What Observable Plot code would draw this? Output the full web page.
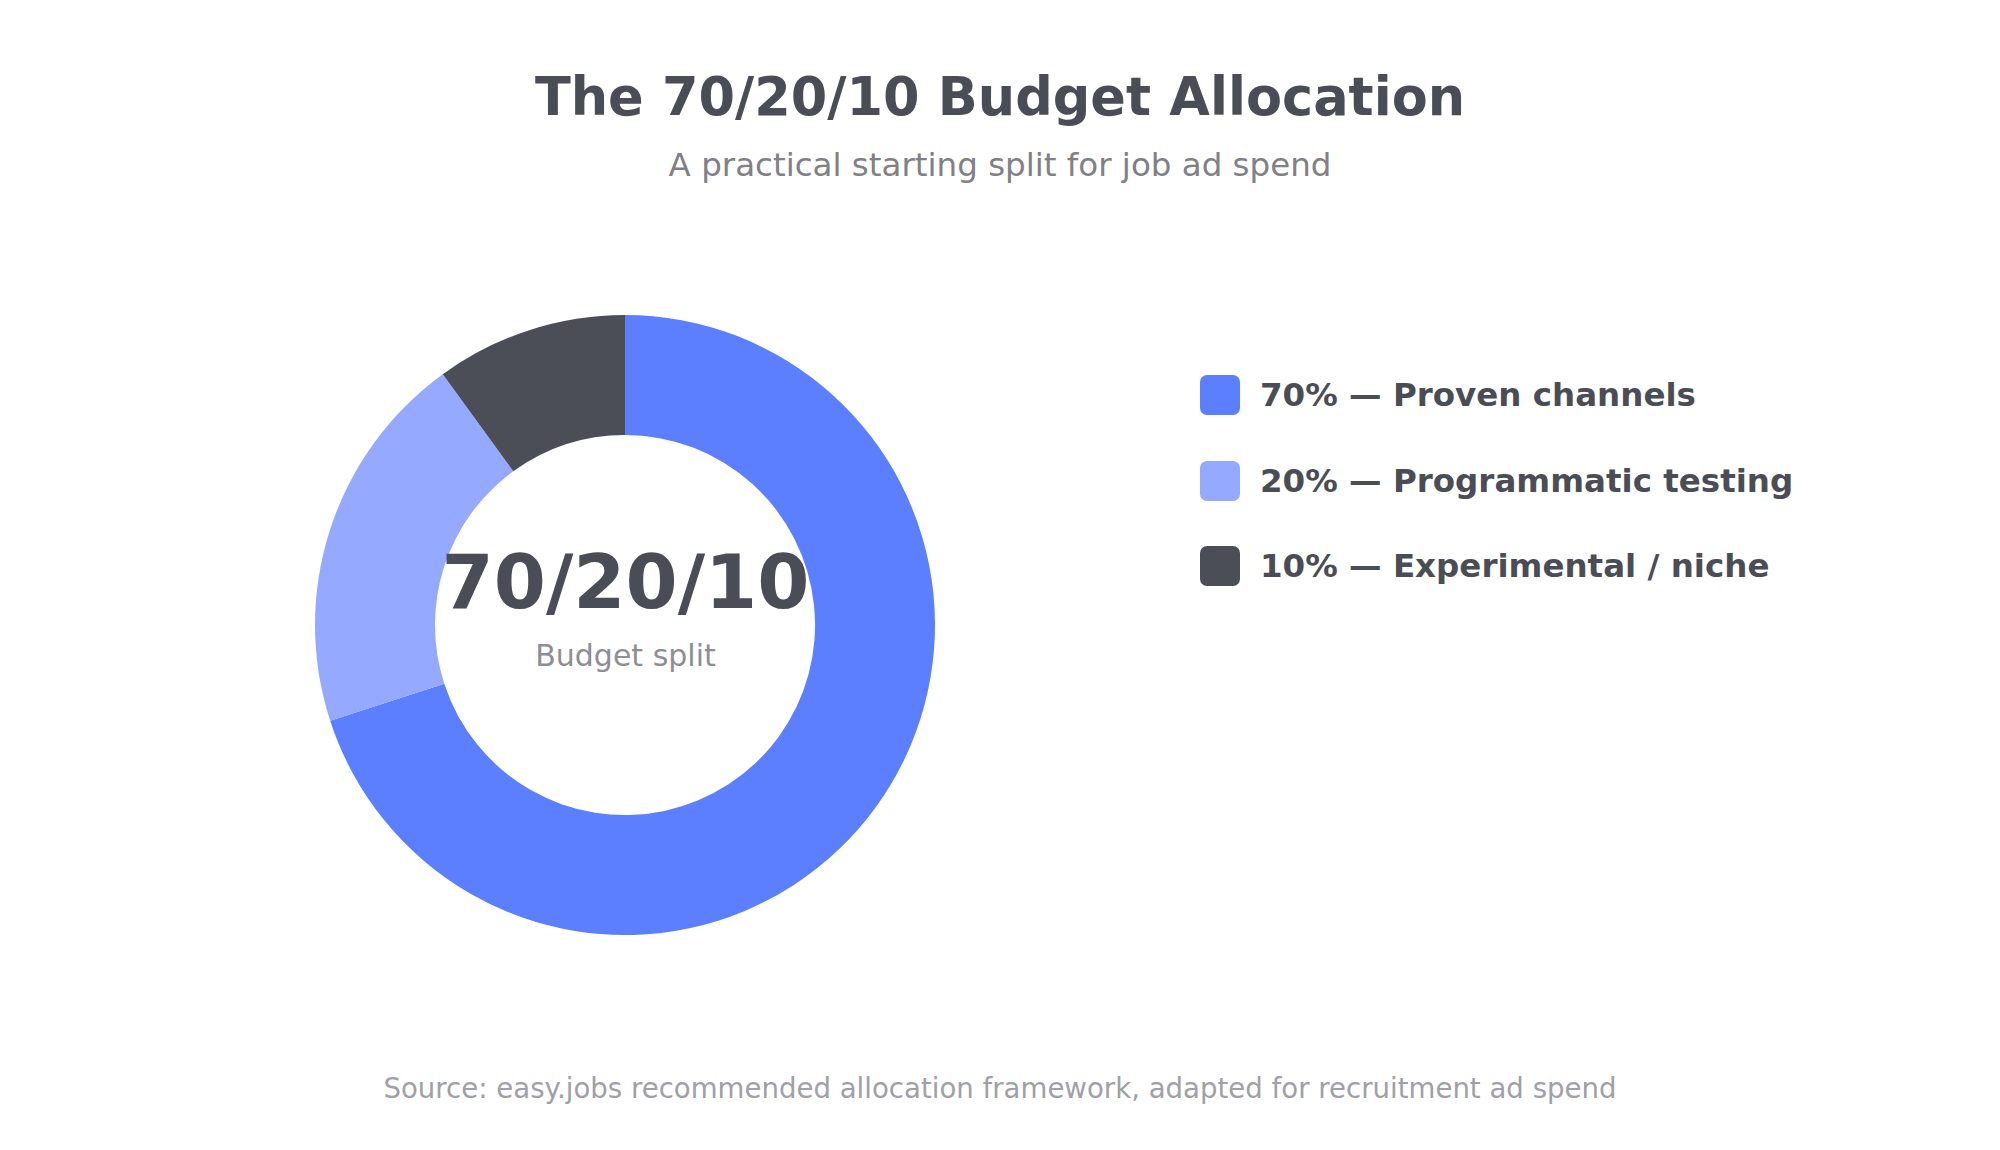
<!DOCTYPE html>
<html>
<head>
<meta charset="utf-8">
<script src="https://cdn.jsdelivr.net/npm/d3@7"></script>
<script src="https://cdn.jsdelivr.net/npm/@observablehq/plot@0.6"></script>
<style>
  html, body { margin: 0; padding: 0; background: #ffffff; }
  body { width: 2000px; height: 1150px; position: relative; overflow: hidden; font-family: "DejaVu Sans", sans-serif; }
  .abs { position: absolute; }
  #title { left: 0; width: 2000px; top: 70px; text-align: center; font-size: 52.5px; line-height: 53px; font-weight: bold; color: #4A4D56; }
  #subtitle { left: 0; width: 2000px; top: 149px; text-align: center; font-size: 32.5px; line-height: 32px; color: #808086; }
  #chart { left: 315px; top: 315px; }
  #legend { left: 1200px; top: 375px; }
  .row { position: absolute; left: 0; display: flex; align-items: center; height: 40px; white-space: nowrap; }
  .sw { width: 40px; height: 40px; border-radius: 7px; margin-right: 20px; }
  .lt { font-size: 32.5px; line-height: 40px; font-weight: bold; color: #4A4D56; }
  #caption { left: 0; width: 2000px; top: 1075px; text-align: center; font-size: 27.6px; line-height: 27px; color: #A0A0A6; }
</style>
</head>
<body>
<div id="title" class="abs"></div>
<div id="subtitle" class="abs"></div>
<div id="chart" class="abs"></div>
<div id="legend" class="abs"></div>
<div id="caption" class="abs"></div>
<script>
const titleText = "The 70/20/10 Budget Allocation";
const subtitleText = "A practical starting split for job ad spend";
const captionText = "Source: easy.jobs recommended allocation framework, adapted for recruitment ad spend";
const categories = ["Proven channels", "Programmatic testing", "Experimental / niche"];
const shares = [70, 20, 10];
const colors = ["#5B7FFF", "#94A9FF", "#4B4E57"];
const centerLabel = "70/20/10";
const centerSub = "Budget split";

document.getElementById("title").textContent = titleText;
document.getElementById("subtitle").textContent = subtitleText;
document.getElementById("caption").textContent = captionText;

const data = categories.map((c, i) => ({category: c, share: shares[i]}));

const size = 620;
const chart = Plot.plot({
  width: size,
  height: size,
  margin: 0,
  style: {fontFamily: "DejaVu Sans, sans-serif", background: "transparent"},
  x: {domain: [0, d3.sum(shares)], range: [0, 2 * Math.PI], axis: null},
  y: {axis: null},
  color: {domain: categories, range: colors},
  marks: [
    Plot.barX(data, {
      x: "share",
      fill: "category",
      render: (index, scales, values, dimensions) => {
        const cx = dimensions.width / 2, cy = dimensions.height / 2;
        const outer = Math.min(dimensions.width, dimensions.height) / 2;
        const inner = outer * 0.613;
        const arc = d3.arc().innerRadius(inner).outerRadius(outer);
        const g = d3.create("svg:g").attr("transform", `translate(${cx},${cy})`);
        for (const i of index) {
          g.append("path")
            .attr("d", arc({startAngle: values.x1[i], endAngle: values.x2[i]}))
            .attr("fill", values.fill[i]);
        }
        return g.node();
      }
    }),
    Plot.text([centerLabel], {text: d => d, frameAnchor: "middle", dy: -42, fontSize: 75, fontWeight: "bold", fill: "#4A4D56"}),
    Plot.text([centerSub], {text: d => d, frameAnchor: "middle", dy: 31, fontSize: 30, fill: "#8E8E94"})
  ]
});
document.getElementById("chart").appendChild(chart);

const legend = document.getElementById("legend");
categories.forEach((c, i) => {
  const row = document.createElement("div");
  row.className = "row";
  row.style.top = (i * 85.5) + "px";
  const sw = document.createElement("div");
  sw.className = "sw";
  sw.style.background = colors[i];
  const lt = document.createElement("div");
  lt.className = "lt";
  lt.textContent = `${shares[i]}% — ${c}`;
  row.appendChild(sw);
  row.appendChild(lt);
  legend.appendChild(row);
});
</script>
</body>
</html>
